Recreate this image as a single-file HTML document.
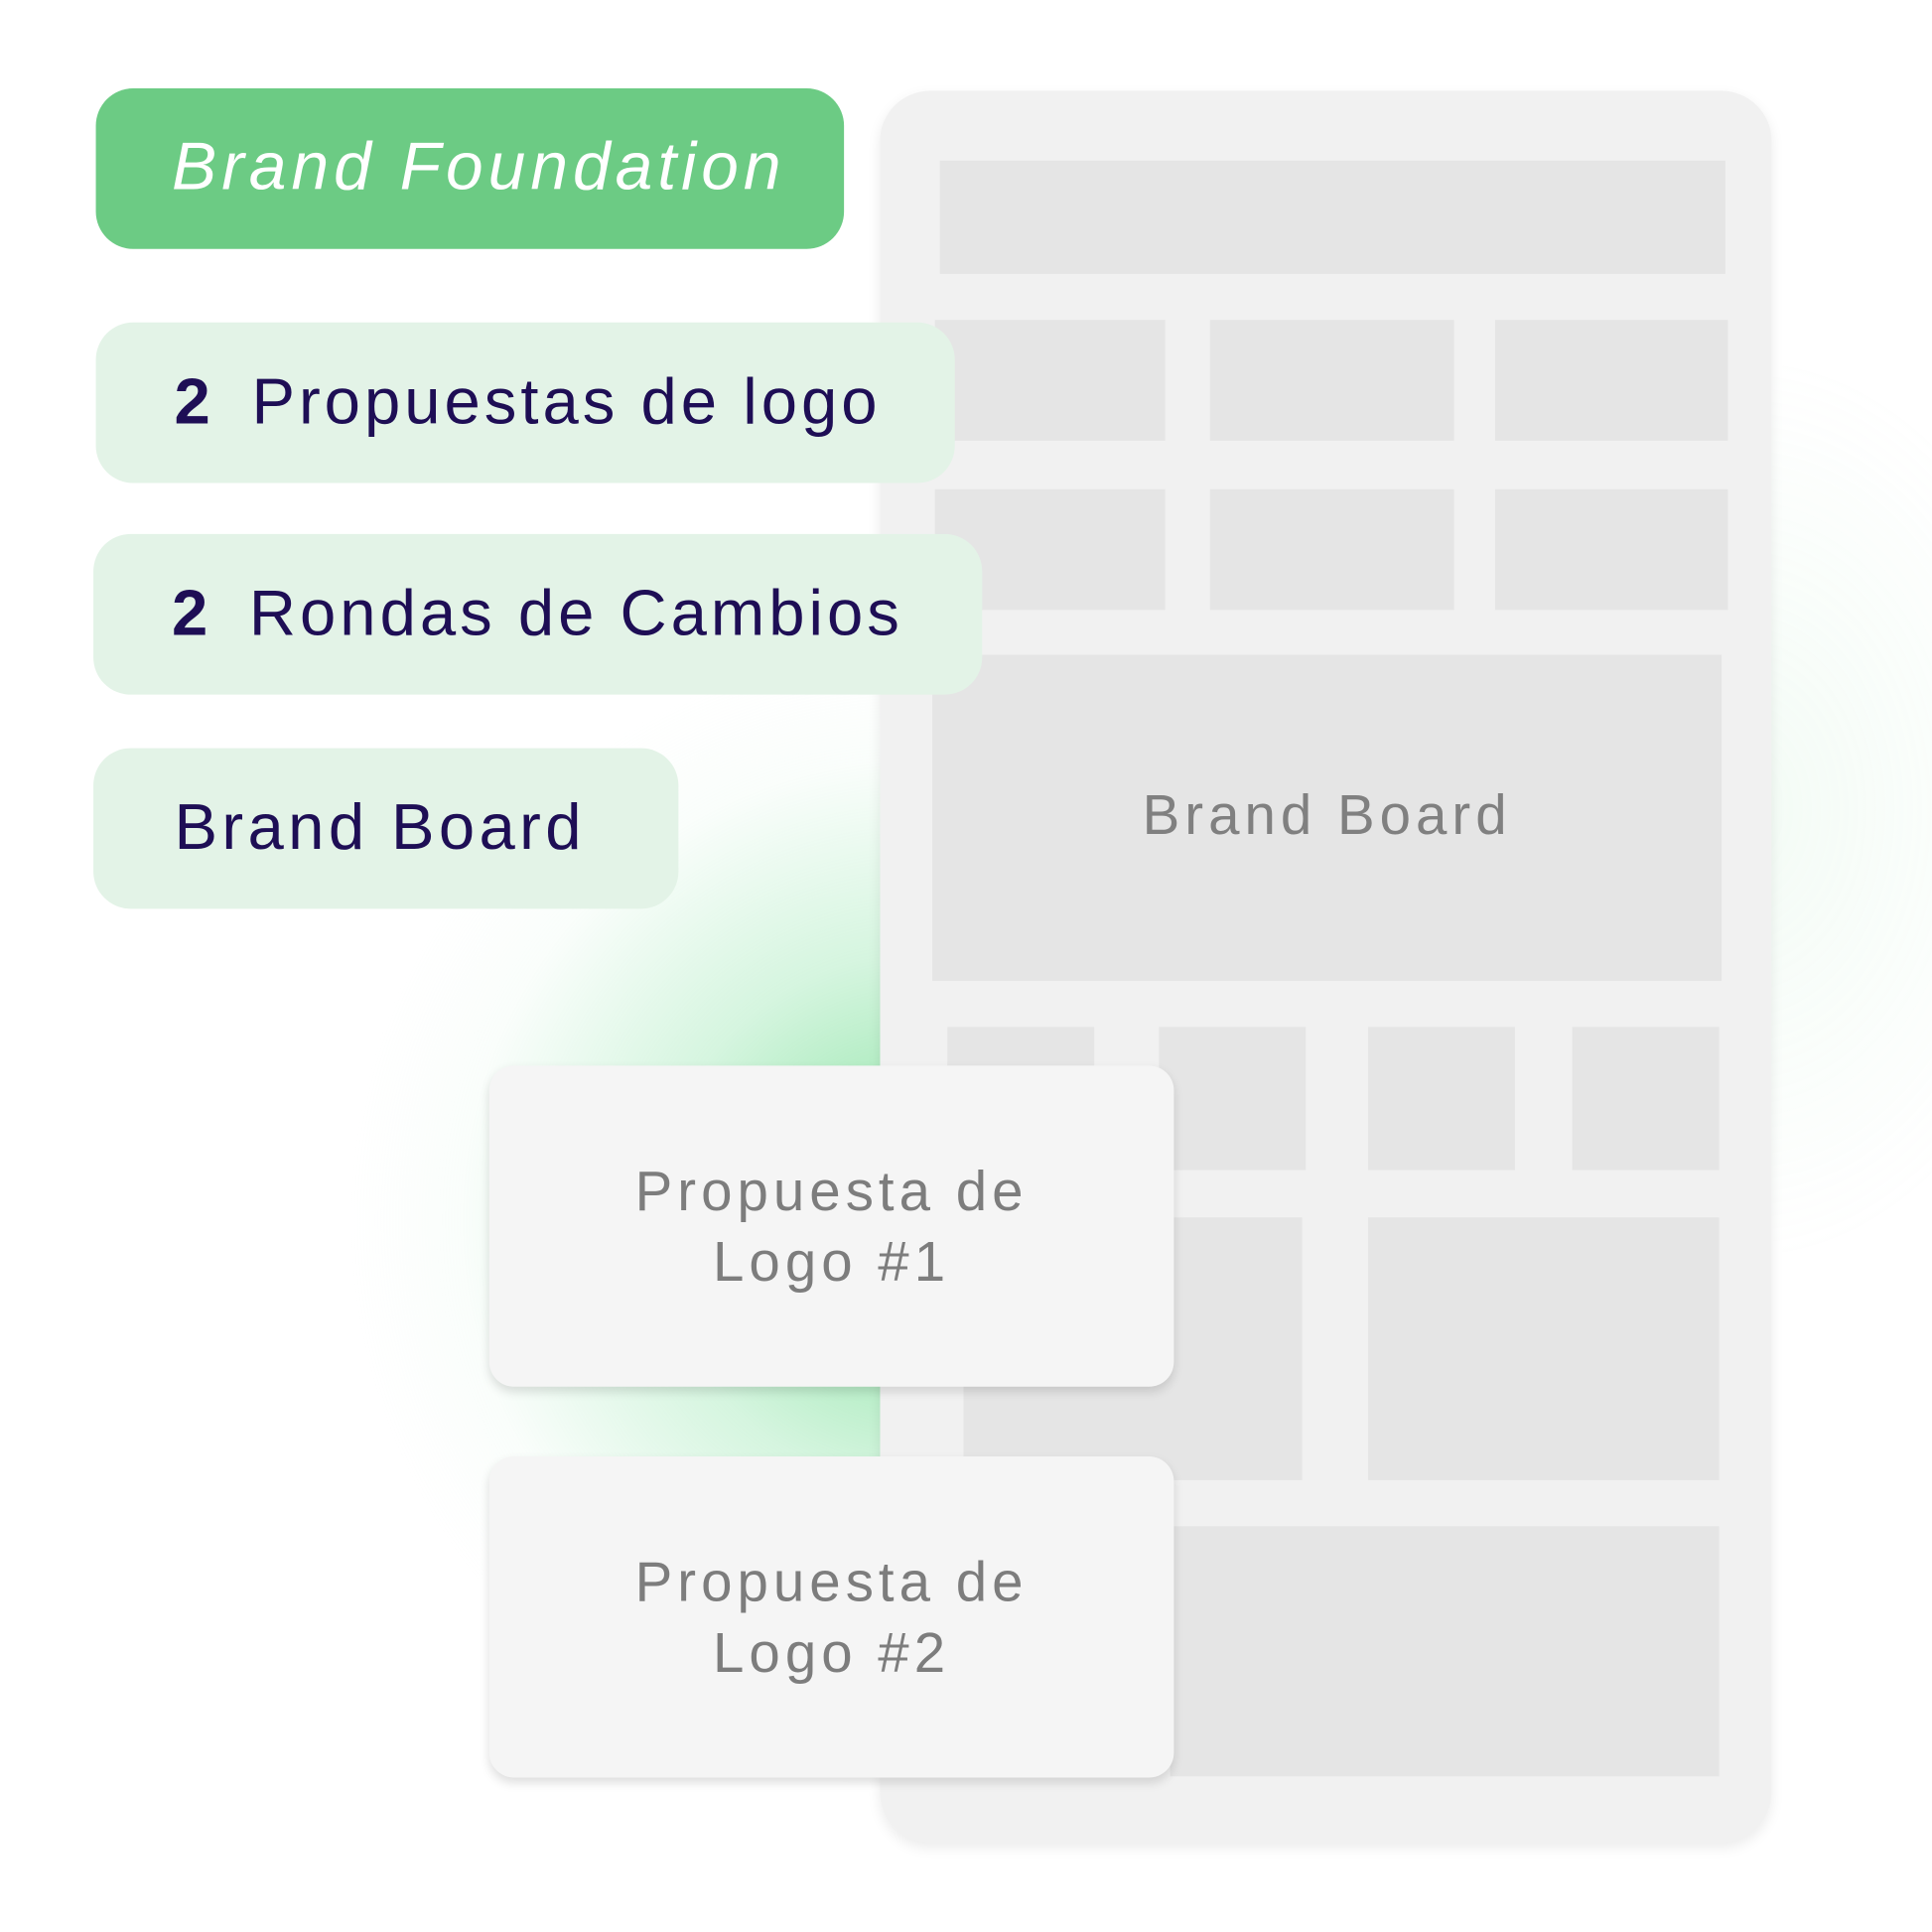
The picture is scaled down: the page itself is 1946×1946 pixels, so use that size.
<!DOCTYPE html>
<html><head><meta charset="utf-8"><style>
html,body{margin:0;padding:0;background:#fff;width:1946px;height:1946px;overflow:hidden}
#w{position:absolute;left:0;top:0;width:1552px;height:1552px;transform:scale(1.25387);transform-origin:0 0;font-family:"Liberation Sans",sans-serif}
.a{position:absolute}
.g{position:absolute;background:#e5e5e5}
.pill{position:absolute;background:#e3f3e7;border-radius:30px;color:#1e0e55;font-size:52px;letter-spacing:3.2px;line-height:129px;padding-left:63px;box-sizing:border-box;white-space:nowrap}
.pill b{margin-right:30px}
.card{position:absolute;background:#f5f5f5;border-radius:20px;box-shadow:0 4px 8px rgba(0,0,0,.13);color:#7d7d7d;font-size:45px;letter-spacing:4px;text-align:center;line-height:57px;box-sizing:border-box;padding-top:72px}
</style></head><body><div id="w">
<div class="a" style="left:0;top:0;width:1552px;height:1552px;background:radial-gradient(ellipse 380px 520px at 1400px 650px,rgba(170,230,185,.14),rgba(255,255,255,0) 70%)"></div>
<div class="a" style="left:100px;top:200px;width:1452px;height:1352px;background:radial-gradient(ellipse 560px 560px at 640px 780px,rgba(90,215,125,.75),rgba(150,230,175,.4) 38%,rgba(220,245,228,.15) 66%,rgba(255,255,255,0) 82%)"></div>
<div class="a" style="left:707px;top:73px;width:716px;height:1407px;background:#f1f1f1;border-radius:40px;box-shadow:0 4px 10px rgba(0,0,0,.08)"></div>
<div class="g" style="left:755px;top:129px;width:631px;height:91px"></div>
<div class="g" style="left:751px;top:257px;width:185px;height:97px"></div>
<div class="g" style="left:972px;top:257px;width:196px;height:97px"></div>
<div class="g" style="left:1201px;top:257px;width:187px;height:97px"></div>
<div class="g" style="left:751px;top:393px;width:185px;height:97px"></div>
<div class="g" style="left:972px;top:393px;width:196px;height:97px"></div>
<div class="g" style="left:1201px;top:393px;width:187px;height:97px"></div>
<div class="g" style="left:749px;top:526px;width:634px;height:262px;color:#808080;font-size:45px;letter-spacing:4px;text-align:center;line-height:258px">Brand Board</div>
<div class="g" style="left:761px;top:825px;width:118px;height:115px"></div>
<div class="g" style="left:931px;top:825px;width:118px;height:115px"></div>
<div class="g" style="left:1099px;top:825px;width:118px;height:115px"></div>
<div class="g" style="left:1263px;top:825px;width:118px;height:115px"></div>
<div class="g" style="left:774px;top:978px;width:272px;height:211px"></div>
<div class="g" style="left:1099px;top:978px;width:282px;height:211px"></div>
<div class="g" style="left:940px;top:1226px;width:441px;height:201px"></div>
<div class="a" style="left:77px;top:71px;width:601px;height:129px;background:#6ccb84;border-radius:30px;color:#fff;font-style:italic;font-size:54px;letter-spacing:4px;line-height:127px;padding-left:61px;box-sizing:border-box">Brand Foundation</div>
<div class="pill" style="left:77px;top:259px;width:690px;height:129px"><b>2</b>Propuestas de logo</div>
<div class="pill" style="left:75px;top:429px;width:714px;height:129px"><b>2</b>Rondas de Cambios</div>
<div class="pill" style="left:75px;top:601px;width:470px;height:129px;padding-left:65px;letter-spacing:3.5px">Brand Board</div>
<div class="card" style="left:393px;top:856px;width:550px;height:258px">Propuesta de<br>Logo #1</div>
<div class="card" style="left:393px;top:1170px;width:550px;height:258px">Propuesta de<br>Logo #2</div>
</div></body></html>
